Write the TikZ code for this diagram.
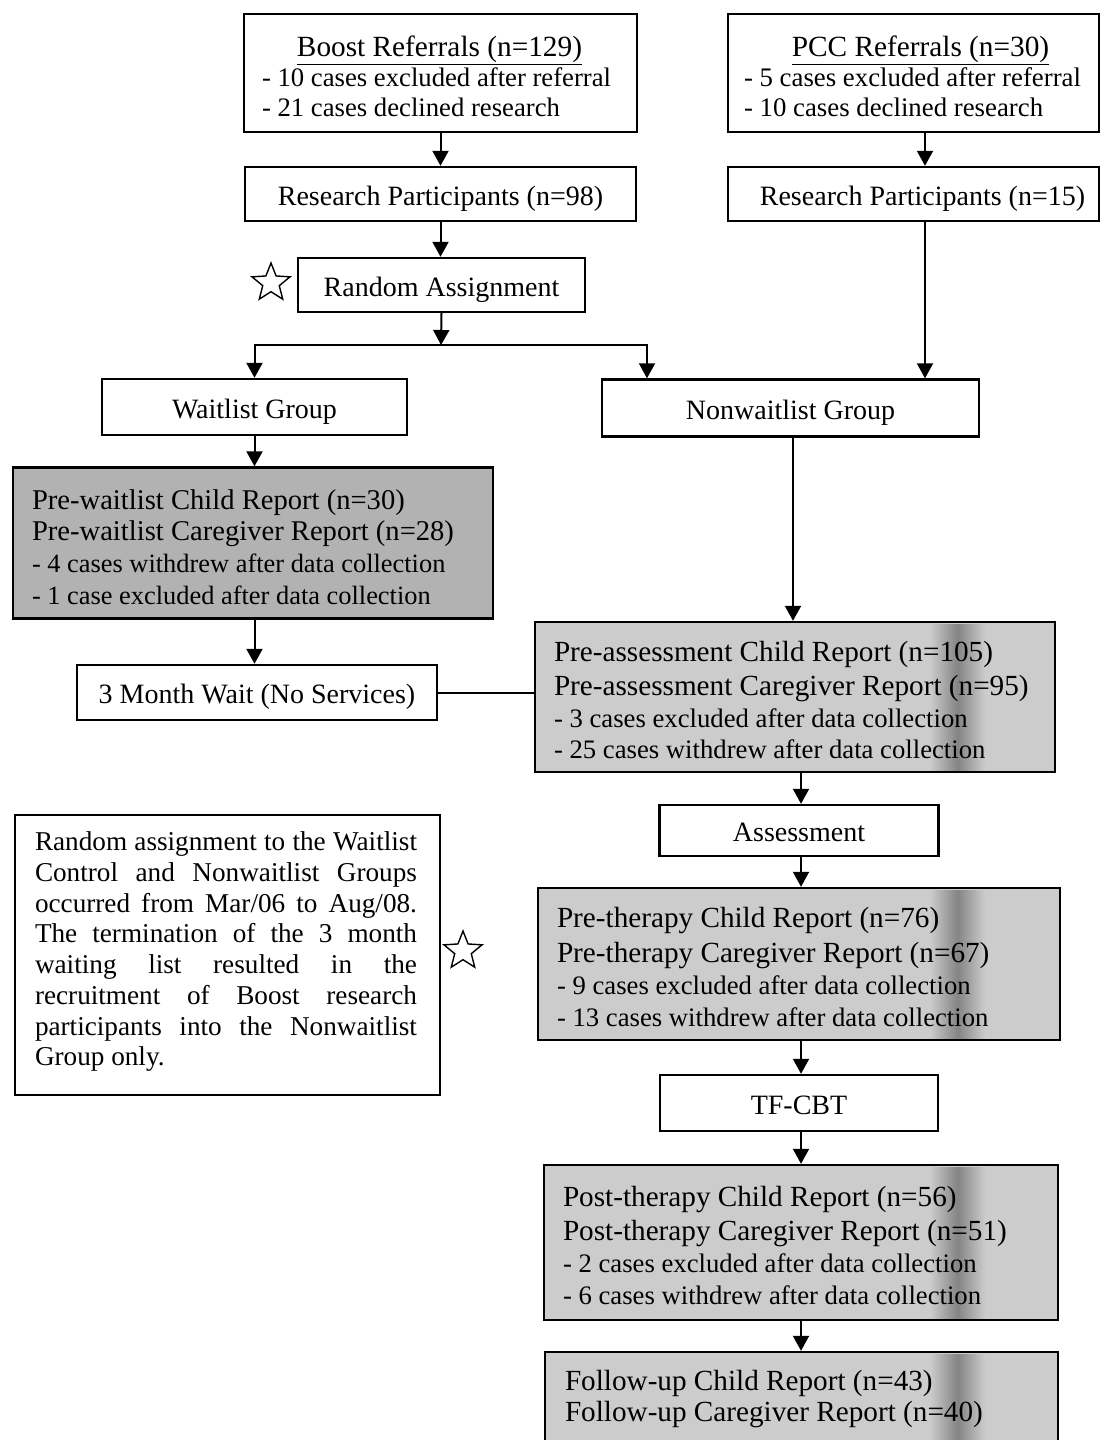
\documentclass[tikz,border=0pt]{standalone}
\usepackage{fontspec}
\setmainfont{Liberation Serif}
\usetikzlibrary{arrows.meta,shapes.geometric}
\newcommand{\fsz}[2]{\fontsize{#1}{#2}\selectfont}
\newcommand{\hdr}{\fsz{29.2}{31.5}}
\begin{document}
\begin{tikzpicture}[x=1pt,y=-1pt,
  every node/.style={font=\fsz{28}{31.5}},
  box/.style={draw, line width=2.4pt, rectangle, inner sep=0pt, text height=24pt, text depth=2pt},
  gboxa/.style={box, fill=black!30},
  gboxb/.style={box, fill=black!20},
  txt/.style={inner sep=0pt, align=left},
  streak/.style={left color=black!20, right color=black!20, middle color=black!48},
  arr/.style={line width=2pt, -{Triangle[width=16pt,length=15pt]}},
  ln/.style={line width=2pt},
  starsh/.style={star, star points=5, star point ratio=2.3, draw, line width=1.4pt,
                 minimum size=40pt, inner sep=0pt}]
\useasboundingbox (0,0) rectangle (1101,1440);

% top boxes
\node[box, minimum width=393pt, minimum height=118pt] (boost) at (440.5,73) {};
\node[txt, anchor=west, font=\fsz{26.7}{30}] (boostt) at ([xshift=19pt,yshift=-3pt]boost.west)
  {\makebox[355pt][c]{\fsz{29.3}{30}\underline{Boost Referrals (n=129)}}\\- 10 cases excluded after referral\\- 21 cases declined research};
\node[box, minimum width=371pt, minimum height=118pt] (pcc) at (913.5,73) {};
\node[txt, anchor=west, font=\fsz{26.8}{30}] (pcct) at ([xshift=17pt,yshift=-3pt]pcc.west)
  {\makebox[353pt][c]{\fsz{29.3}{30}\underline{PCC Referrals (n=30)}}\\- 5 cases excluded after referral\\- 10 cases declined research};

\node[box, minimum width=391pt, minimum height=54pt] (rp98) at (440.5,194) {Research Participants (n=98)};
\node[box, minimum width=371pt, minimum height=54pt] (rp15) at (913.5,194) {};
\node[inner sep=0pt, text height=24pt, text depth=2pt] (rp15t) at (922.5,194) {Research Participants (n=15)};

\node[box, minimum width=287pt, minimum height=54pt] (rand) at (441.5,285) {Random Assignment};
\node[starsh] (star1) at (271,283) {};

\node[box, minimum width=305pt, minimum height=56pt] (wait) at (254.5,407) {Waitlist Group};
\node[box, minimum width=377pt, minimum height=57pt] (nonwait) at (790.5,408) {Nonwaitlist Group};

% waitlist branch
\node[gboxa, minimum width=480pt, minimum height=151pt] (prewait) at (253,543) {};
\node[txt, anchor=west, font=\fsz{26.4}{31.7}] (prewaitt) at ([xshift=20pt,yshift=-4pt]prewait.west)
  {{\fsz{28.6}{31.7}Pre-waitlist Child Report (n=30)}\\{\fsz{28.6}{31.7}Pre-waitlist Caregiver Report (n=28)}\\- 4 cases withdrew after data collection\\- 1 case excluded after data collection};
\node[box, minimum width=360pt, minimum height=55pt] (wait3) at (257,692.5) {3 Month Wait (No Services)};

% nonwaitlist branch
\node[gboxb, minimum width=520pt, minimum height=150pt] (preass) at (795,697) {};
\fill[streak] (930,624) rectangle (985,770);
\node[txt, anchor=west, font=\fsz{26.7}{31.5}] (preasst) at ([xshift=20pt,yshift=-3pt]preass.west)
  {{\hdr Pre-assessment Child Report (n=105)}\\[3pt]{\hdr Pre-assessment Caregiver Report (n=95)}\\- 3 cases excluded after data collection\\- 25 cases withdrew after data collection};
\node[box, minimum width=279pt, minimum height=51pt] (assess) at (799,830.5) {Assessment};
\node[gboxb, minimum width=522pt, minimum height=152pt] (preth) at (799,964) {};
\fill[streak] (930,890) rectangle (985,1038);
\node[txt, anchor=west, font=\fsz{26.7}{31.5}] (pretht) at ([xshift=20pt,yshift=-3pt]preth.west)
  {{\hdr Pre-therapy Child Report (n=76)}\\[3pt]{\hdr Pre-therapy Caregiver Report (n=67)}\\[1pt]- 9 cases excluded after data collection\\- 13 cases withdrew after data collection};
\node[box, minimum width=278pt, minimum height=56pt] (tfcbt) at (799,1103) {TF-CBT};
\node[gboxb, minimum width=514pt, minimum height=155pt] (postth) at (801,1242.5) {};
\fill[streak] (930,1167) rectangle (985,1318);
\node[txt, anchor=west, font=\fsz{26.7}{31.5}] (postt) at ([xshift=20pt,yshift=-3pt]postth.west)
  {{\hdr Post-therapy Child Report (n=56)}\\[2pt]{\hdr Post-therapy Caregiver Report (n=51)}\\[1pt]- 2 cases excluded after data collection\\- 6 cases withdrew after data collection};
\node[gboxb, minimum width=513pt, minimum height=120pt] (follow) at (801.5,1412) {};
\fill[streak] (930,1354) rectangle (985,1440);
\node[txt, anchor=north west, font=\fsz{29.2}{31}] (followt) at ([xshift=21pt,yshift=-19pt]follow.north west)
  {Follow-up Child Report (n=43)\\Follow-up Caregiver Report (n=40)};

% note
\node[box, minimum width=425pt, minimum height=280pt] (note) at (227.5,955) {};
\node[txt, anchor=north west, font=\fsz{27.2}{30.7}] (notet) at ([xshift=21pt,yshift=-18pt]note.north west)
  {\makebox[382pt][s]{Random assignment to the Waitlist}\\
   \makebox[382pt][s]{Control and Nonwaitlist Groups}\\
   \makebox[382pt][s]{occurred from Mar/06 to Aug/08.}\\
   \makebox[382pt][s]{The termination of the 3 month}\\
   \makebox[382pt][s]{waiting list resulted in the}\\
   \makebox[382pt][s]{recruitment of Boost research}\\
   \makebox[382pt][s]{participants into the Nonwaitlist}\\
   Group only.};
\node[starsh] (star2) at (463,951) {};

% connectors
\coordinate (pccx) at (925,0);
\coordinate (split) at (441,345);
\coordinate (nwx) at (647,0);
\coordinate (nx) at (793,0);
\coordinate (cx) at (801,0);

\draw[arr] (boost) -- (rp98);
\draw[arr] (pcc.south -| pccx) -- (rp15.north -| pccx);
\draw[arr] (rp15.south -| pccx) -- (nonwait.north -| pccx);
\draw[arr] (rp98.south) -- (rp98.south |- rand.north);
\draw[arr] (rand.south) -- (split);
\draw[arr] (split) -| (wait.north);
\draw[arr] (split) -| (nonwait.north -| nwx);
\draw[arr] (wait.south) -- (wait.south |- prewait.north);
\draw[arr] (prewait.south -| wait) -- (wait3.north -| wait);
\draw[ln] (wait3.east) -- (wait3.east -| preass.west);
\draw[arr] (nonwait.south -| nx) -- (preass.north -| nx);
\draw[arr] (preass.south -| cx) -- (assess.north -| cx);
\draw[arr] (assess.south -| cx) -- (preth.north -| cx);
\draw[arr] (preth.south -| cx) -- (tfcbt.north -| cx);
\draw[arr] (tfcbt.south -| cx) -- (postth.north -| cx);
\draw[arr] (postth.south -| cx) -- (follow.north -| cx);
\end{tikzpicture}
\end{document}
